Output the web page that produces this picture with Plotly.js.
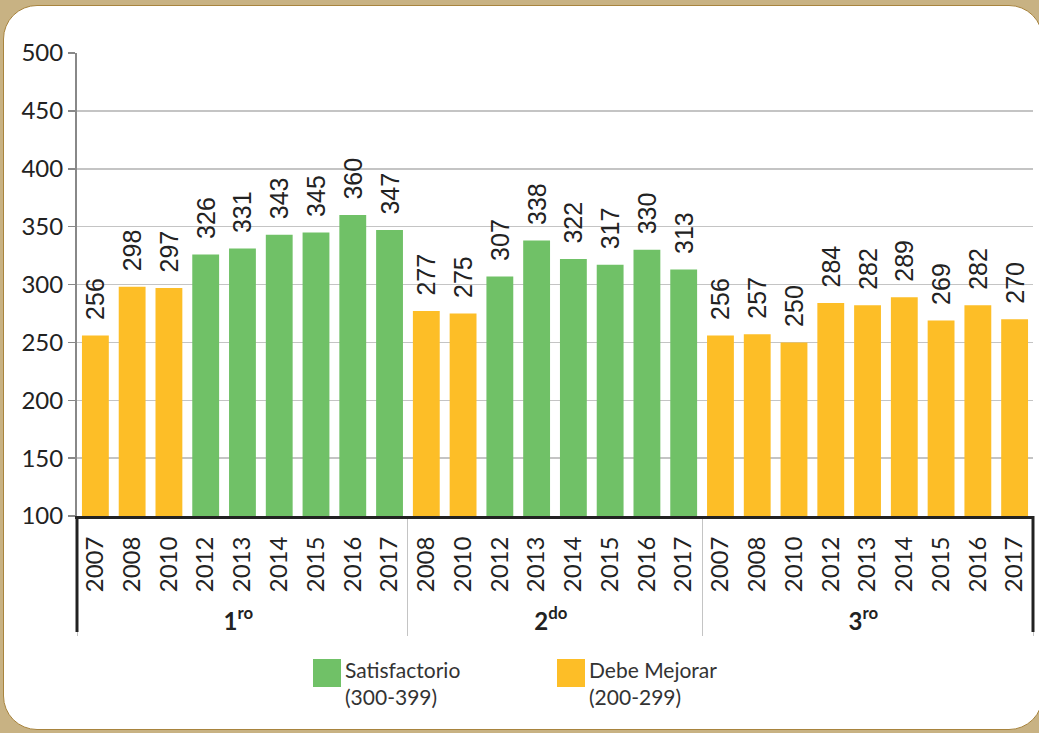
<!DOCTYPE html>
<html>
<head>
<meta charset="utf-8">
<script src="https://cdn.plot.ly/plotly-3.0.1.min.js"></script>
<style>
  html, body { margin:0; padding:0; width:1039px; height:733px; overflow:hidden; background:#c8b283; }
  #frame { position:absolute; left:3px; top:5px; width:1040px; height:725px; background:#ffffff;
           border:1.5px solid #a8843e; border-radius:34px; box-sizing:border-box; }
  #chart { position:absolute; left:0; top:0; width:1039px; height:733px; }
</style>
</head>
<body>
<div id="frame"></div>
<div id="chart"></div>
<script>
// ---- data ----
const gradeLabels = ['<b>1<sup>ro</sup></b>', '<b>2<sup>do</sup></b>', '<b>3<sup>ro</sup></b>'];
const grade1Years = ['2007','2008','2010','2012','2013','2014','2015','2016','2017'];
const grade1Scores = [256, 298, 297, 326, 331, 343, 345, 360, 347];
const grade2Years = ['2008','2010','2012','2013','2014','2015','2016','2017'];
const grade2Scores = [277, 275, 307, 338, 322, 317, 330, 313];
const grade3Years = ['2007','2008','2010','2012','2013','2014','2015','2016','2017'];
const grade3Scores = [256, 257, 250, 284, 282, 289, 269, 282, 270];
const levelNames = ['Satisfactorio', 'Debe Mejorar'];
const levelRanges = ['(300-399)', '(200-299)'];
const levelColors = ['#70c167', '#fdbe27'];
const yTicks = [100, 150, 200, 250, 300, 350, 400, 450, 500];

// ---- build ----
const groups = [], years = [], scores = [];
[[grade1Years, grade1Scores], [grade2Years, grade2Scores], [grade3Years, grade3Scores]].forEach((g, i) => {
  g[0].forEach((yr, j) => { groups.push(gradeLabels[i]); years.push(yr); scores.push(g[1][j]); });
});
const colors = scores.map(v => v >= 300 ? levelColors[0] : levelColors[1]);

const W = 1039, H = 733;
const M = {l: 77, r: 6, t: 53, b: 217};
const pw = W - M.l - M.r, ph = H - M.t - M.b;
const px = x => (x - M.l) / pw;
const py = y => (H - M.b - y) / ph;

const trace = {
  type: 'bar',
  x: [groups, years],
  y: scores,
  marker: {color: colors, line: {width: 0}},
  text: scores.map(v => '\u2002' + v),
  textposition: 'outside',
  textangle: -90,
  constraintext: 'none',
  cliponaxis: false,
  textfont: {family: 'Liberation Sans, Arial, sans-serif', size: 25, color: '#222'},
  hoverinfo: 'x+y',
  showlegend: false
};

const shapes = [
  {type: 'line', xref: 'paper', yref: 'paper', x0: 0, x1: 0, y0: 0, y1: py(632), line: {color: '#222', width: 3}},
  {type: 'line', xref: 'paper', yref: 'paper', x0: 1, x1: 1, y0: 0, y1: py(632), line: {color: '#222', width: 3}},
  // legend swatches
  {type: 'rect', xref: 'paper', yref: 'paper', x0: px(313), x1: px(341), y0: py(687), y1: py(659), fillcolor: levelColors[0], line: {width: 0}},
  {type: 'rect', xref: 'paper', yref: 'paper', x0: px(557), x1: px(585), y0: py(687), y1: py(659), fillcolor: levelColors[1], line: {width: 0}}
];
const annotations = [
  {xref: 'paper', yref: 'paper', x: px(343), y: py(655), xanchor: 'left', yanchor: 'top', align: 'left', showarrow: false,
   text: levelNames[0] + '<br>' + levelRanges[0], font: {family: 'Lato, sans-serif', size: 21, color: '#333'}},
  {xref: 'paper', yref: 'paper', x: px(587), y: py(655), xanchor: 'left', yanchor: 'top', align: 'left', showarrow: false,
   text: levelNames[1] + '<br>' + levelRanges[1], font: {family: 'Lato, sans-serif', size: 21, color: '#333'}}
];

const layout = {
  width: W, height: H,
  margin: M,
  paper_bgcolor: 'rgba(0,0,0,0)',
  plot_bgcolor: 'rgba(0,0,0,0)',
  bargap: 0.27,
  showlegend: false,
  xaxis: {
    type: 'multicategory',
    tickangle: -90,
    ticks: '',
    ticklabelstandoff: 8,
    showline: true, linecolor: '#222', linewidth: 3,
    showdividers: true, dividercolor: '#c4c4c4', dividerwidth: 1,
    tickfont: {family: 'Lato, sans-serif', size: 24, color: '#222'},
    showgrid: false
  },
  yaxis: {
    range: [100, 500],
    tickvals: yTicks,
    ticktext: yTicks.map(String),
    showline: true, linecolor: '#888', linewidth: 2,
    ticks: 'outside', ticklen: 7, tickcolor: '#888', tickwidth: 1.5,
    gridcolor: '#c4c4c4', gridwidth: 1.5,
    zeroline: false,
    tickfont: {family: 'Lato, sans-serif', size: 24, color: '#222'}
  },
  shapes: shapes,
  annotations: annotations
};

Plotly.newPlot('chart', [trace], layout, {displayModeBar: false, staticPlot: true});
</script>
</body>
</html>
